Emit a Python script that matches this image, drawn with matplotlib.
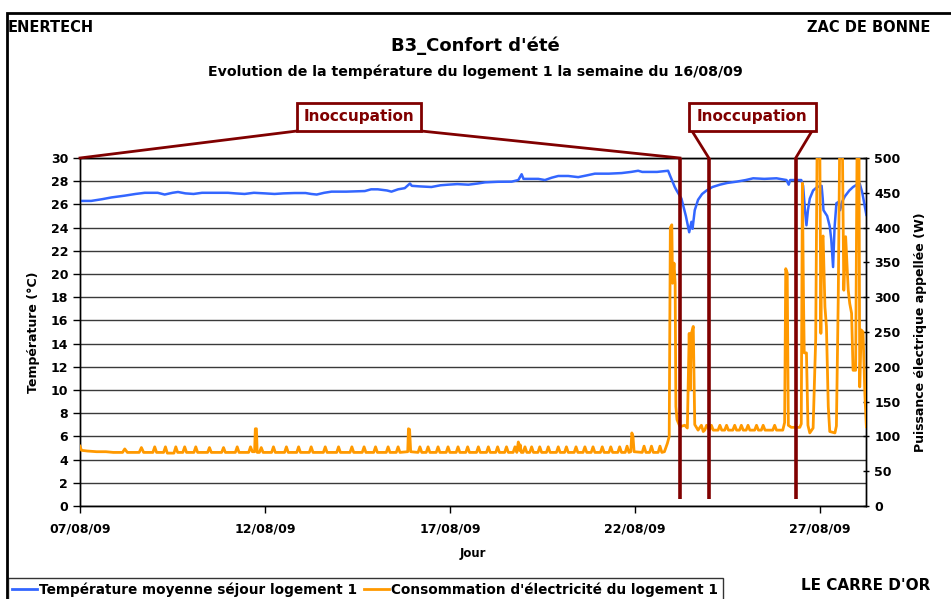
import numpy as np
import matplotlib
matplotlib.use('Agg')
import matplotlib.pyplot as plt
from matplotlib.lines import Line2D
from matplotlib.patches import Rectangle

plt.rcParams['font.family'] = ['DejaVu Sans']
plt.rcParams['font.weight'] = 'bold'

# days since 07/08/09 00:00
temp_days = [0, 0.3, 0.6, 0.85, 1.2, 1.5, 1.75, 2.1, 2.29, 2.5, 2.65, 2.85, 3.07, 3.3, 3.6, 4.0, 4.2,
             4.45, 4.7, 5.0, 5.26, 5.5, 5.8, 6.1, 6.25, 6.4, 6.6, 6.8, 7.2, 7.7, 7.87, 8.05, 8.3, 8.42,
             8.6, 8.78, 8.92, 8.97, 9.2, 9.5, 9.75, 9.95, 10.2, 10.5, 10.75, 10.95, 11.3, 11.67, 11.85,
             11.94, 11.99, 12.39, 12.57, 12.75, 12.93, 13.2, 13.47, 13.7, 13.92, 14.3, 14.64, 14.9,
             15.09, 15.2, 15.6, 15.9, 15.95, 16.08, 16.13, 16.26, 16.38, 16.47, 16.53, 16.56, 16.62,
             16.71, 16.82, 16.94, 17.1, 17.3, 17.5, 17.75, 18.0, 18.2, 18.5, 18.83, 19.1, 19.16, 19.2,
             19.5, 19.55, 19.6, 19.64, 19.68, 19.73, 19.82, 19.93, 20.05, 20.08, 20.1, 20.2, 20.27,
             20.31, 20.36, 20.4, 20.45, 20.5, 20.55, 20.6, 20.68, 20.8, 20.9, 21.0, 21.08, 21.15, 21.26]
temp_vals = [26.3, 26.3, 26.45, 26.6, 26.75, 26.9, 27.0, 27.0, 26.85, 27.0, 27.07, 26.95, 26.9, 27.0,
             27.0, 27.0, 26.95, 26.9, 27.0, 26.95, 26.9, 26.95, 26.98, 26.98, 26.9, 26.85, 27.0, 27.1,
             27.1, 27.15, 27.3, 27.3, 27.2, 27.1, 27.3, 27.4, 27.8, 27.6, 27.55, 27.5, 27.65, 27.7,
             27.75, 27.7, 27.8, 27.9, 27.95, 27.96, 28.1, 28.6, 28.2, 28.2, 28.1, 28.3, 28.45, 28.45,
             28.35, 28.5, 28.65, 28.65, 28.7, 28.8, 28.9, 28.8, 28.8, 28.9, 28.5, 27.5, 27.2, 26.5,
             25.0, 23.6, 24.5, 23.9, 25.5, 26.4, 26.9, 27.2, 27.5, 27.7, 27.85, 27.96, 28.1, 28.25,
             28.2, 28.25, 28.1, 27.7, 28.1, 28.1, 27.6, 25.5, 24.2, 25.5, 26.5, 27.2, 27.5, 27.6, 26.5,
             25.5, 25.0, 24.1, 23.0, 20.6, 24.0, 26.1, 26.2, 25.5, 26.2, 26.7, 27.2, 27.5, 27.7, 27.8,
             27.0, 25.1]

elec_days = [0, 0.04, 0.2, 0.45, 0.7, 0.9, 1.15, 1.21, 1.28,
             1.6, 1.66, 1.72, 1.97, 2.02, 2.07, 2.26, 2.31, 2.36, 2.54, 2.59, 2.64,
             2.78, 2.83, 2.88, 3.08, 3.13, 3.18, 3.45, 3.5, 3.55, 3.83, 3.88, 3.93,
             4.2, 4.25, 4.3, 4.56, 4.61, 4.66, 4.72, 4.74, 4.77, 4.79, 4.85, 4.9, 4.95,
             5.18, 5.23, 5.28, 5.53, 5.58, 5.63, 5.86, 5.91, 5.96, 6.2, 6.25, 6.3,
             6.58, 6.63, 6.68, 6.94, 6.99, 7.04, 7.3, 7.35, 7.4, 7.63, 7.68, 7.73,
             7.94, 7.99, 8.04, 8.28, 8.33, 8.38, 8.55, 8.6, 8.65, 8.86, 8.88, 8.91, 8.94,
             9.14, 9.19, 9.24, 9.36, 9.41, 9.46, 9.63, 9.68, 9.73, 9.9, 9.95, 10.0,
             10.17, 10.22, 10.27, 10.43, 10.48, 10.53, 10.72, 10.77, 10.82, 10.99, 11.04, 11.09,
             11.24, 11.29, 11.34, 11.48, 11.53, 11.58, 11.71, 11.76, 11.81, 11.85, 11.88, 11.9, 11.93,
             11.98, 12.03, 12.08, 12.16, 12.21, 12.26, 12.38, 12.43, 12.48, 12.61, 12.66, 12.71,
             12.88, 12.93, 12.98, 13.1, 13.15, 13.2, 13.36, 13.41, 13.46, 13.6, 13.65, 13.7,
             13.82, 13.87, 13.92, 14.07, 14.12, 14.17, 14.3, 14.35, 14.4, 14.54, 14.59, 14.64,
             14.74, 14.79, 14.84, 14.89, 14.92, 14.95, 14.98, 15.2, 15.25, 15.3, 15.4, 15.45, 15.5,
             15.63, 15.68, 15.73, 15.8, 15.88, 15.93, 15.96, 16.0, 16.02, 16.06, 16.09, 16.11, 16.14,
             16.22, 16.35, 16.42, 16.47, 16.5, 16.53, 16.58, 16.62, 16.71, 16.8, 16.85,
             16.89, 16.94, 17.02, 17.07, 17.12, 17.25, 17.3, 17.35, 17.43, 17.48, 17.53,
             17.65, 17.7, 17.75, 17.83, 17.88, 17.93, 18.01, 18.06, 18.11, 18.24, 18.29, 18.34,
             18.42, 18.47, 18.52, 18.73, 18.78, 18.83, 19.0, 19.05, 19.08, 19.12, 19.15, 19.23,
             19.46, 19.5, 19.53, 19.56, 19.58, 19.61, 19.64, 19.68, 19.73, 19.82, 19.89, 19.93,
             20.0, 20.03, 20.05, 20.09, 20.14, 20.18, 20.23, 20.27, 20.41, 20.45, 20.5, 20.54,
             20.61, 20.65, 20.7, 20.77, 20.81, 20.86, 20.9, 20.97, 21.01, 21.06, 21.08, 21.12,
             21.17, 21.22, 21.26]
elec_vals = [86, 80, 79, 78, 78, 77, 77, 82, 77,
             77, 84, 77, 77, 85, 77, 77, 85, 76, 76, 85, 77,
             77, 85, 77, 77, 85, 77, 77, 84, 77, 77, 84, 77,
             77, 85, 77, 77, 85, 78, 78, 111, 111, 77, 77, 84, 77,
             77, 85, 77, 77, 85, 77, 77, 85, 77, 77, 85, 77,
             77, 85, 77, 77, 85, 77, 77, 85, 77, 77, 85, 77,
             77, 85, 77, 77, 85, 77, 77, 85, 77, 78, 111, 110, 78,
             77, 85, 77, 77, 85, 77, 77, 85, 77, 77, 85, 77,
             77, 85, 77, 77, 85, 77, 77, 85, 77, 77, 85, 77,
             77, 85, 77, 77, 85, 77, 77, 85, 77, 92, 80, 88, 77,
             77, 85, 77, 77, 85, 77, 77, 85, 77, 77, 85, 77,
             77, 85, 77, 77, 85, 77, 77, 85, 77, 77, 85, 77,
             77, 85, 77, 77, 85, 77, 77, 85, 77, 77, 85, 77,
             77, 86, 77, 78, 105, 100, 78, 77, 86, 77, 77, 86, 77,
             77, 86, 77, 78, 90, 100, 400, 404, 320, 349, 320, 143, 124,
             114, 116, 112, 248, 167, 248, 258, 117, 109, 116, 107,
             109, 116, 109, 116, 109, 109, 116, 109, 109, 116, 109,
             109, 116, 109, 109, 116, 109, 109, 116, 109, 109, 116, 109,
             109, 116, 109, 109, 116, 109, 109, 120, 341, 335, 116, 113,
             113, 118, 464, 300, 220, 220, 220, 116, 105, 112, 240, 530,
             530, 248, 382, 388, 286, 258, 143, 107, 105, 115, 300, 530,
             530, 310, 387, 310, 291, 277, 195, 195, 530, 530, 171, 253,
             250, 160, 114]

xtick_days = [0, 5, 10, 15, 20]
xtick_labels = ['07/08/09', '12/08/09', '17/08/09', '22/08/09', '27/08/09']
vacancy_lines = [16.22, 17.0, 19.35]

dark_red = '#800000'
blue = '#3366FF'
orange = '#FF9900'

fig = plt.figure(figsize=(9.51, 5.99), dpi=100)
W, H = 951, 599
ax = fig.add_axes([80 / W, 1 - 506 / H, 786 / W, 348 / H])
ax2 = ax.twinx()

ax.plot(temp_days, temp_vals, color=blue, lw=1.8, zorder=3)
ax2.plot(elec_days, elec_vals, color=orange, lw=2.0, zorder=3)
ax2.vlines(vacancy_lines, 0.6, 30, colors=dark_red, lw=2.6, transform=ax.transData, zorder=4)

ax.set_xlim(0, 21.25)
ax.set_ylim(0, 30)
ax2.set_ylim(0, 500)
ax.set_yticks(np.arange(0, 31, 2))
ax2.set_yticks(np.arange(0, 501, 50))
ax.set_xticks(xtick_days)
ax.set_xticklabels(xtick_labels)
ax.grid(axis='y', color='#3a3a3a', lw=1)
ax.set_axisbelow(True)
ax.tick_params(axis='both', labelsize=9, length=5, width=1, direction='out')
ax.tick_params(axis='x', pad=7)
ax2.tick_params(axis='y', labelsize=9, length=5, width=1, direction='inout')
for a in (ax, ax2):
    for s in a.spines.values():
        s.set_linewidth(1)
        s.set_color('black')

ax.set_ylabel('Température (°C)', fontsize=9, fontweight='bold', labelpad=8)
ax2.set_ylabel('Puissance électrique appellée (W)', fontsize=9, fontweight='bold', labelpad=10)
fig.text(473 / W, 1 - 553 / H, 'Jour', ha='center', va='center', fontsize=8.5, fontweight='bold')

# headers
fig.text(8 / W, 1 - 27 / H, 'ENERTECH', ha='left', va='center', fontsize=10.5, fontweight='bold')
fig.text(930 / W, 1 - 27 / H, 'ZAC DE BONNE', ha='right', va='center', fontsize=10.5, fontweight='bold')
fig.text(475 / W, 1 - 46 / H, "B3_Confort d'été", ha='center', va='center', fontsize=13, fontweight='bold')
fig.text(475 / W, 1 - 72 / H, 'Evolution de la température du logement 1 la semaine du 16/08/09',
         ha='center', va='center', fontsize=10.2, fontweight='bold')
fig.text(930 / W, 1 - 586 / H, "LE CARRE D'OR", ha='right', va='center', fontsize=11, fontweight='bold')

# annotation boxes "Inoccupation"
def box(x0, x1, y0, y1):
    r = Rectangle((x0 / W, 1 - y1 / H), (x1 - x0) / W, (y1 - y0) / H, transform=fig.transFigure,
                  fill=True, facecolor='white', edgecolor=dark_red, lw=2, zorder=5)
    fig.patches.append(r)
    fig.text((x0 + x1) / 2 / W, 1 - (y0 + y1) / 2 / H, 'Inoccupation', ha='center', va='center',
             fontsize=11, fontweight='bold', color=dark_red, zorder=6)

box(297, 421, 103, 131)
box(689, 816, 103, 131)

def link(xb, yb, day):
    xa, ya = fig.transFigure.inverted().transform(ax.transData.transform((day, 30)))
    fig.add_artist(Line2D([xb / W, xa], [1 - yb / H, ya], color=dark_red, lw=2, zorder=4))

link(297, 131, 0)
link(421, 131, vacancy_lines[0])
link(692, 131, vacancy_lines[1])
link(812, 131, vacancy_lines[2])

# legend
handles = [Line2D([], [], color=blue, lw=2), Line2D([], [], color=orange, lw=2)]
leg = fig.legend(handles, ['Température moyenne séjour logement 1', "Consommation d'électricité du logement 1"],
                 loc='upper left', bbox_to_anchor=(8 / W, 1 - 578 / H), ncol=2, frameon=True,
                 fancybox=False, edgecolor='black', prop={'size': 9.8, 'weight': 'bold'},
                 handlelength=1.8, handletextpad=0.2, columnspacing=0.5, borderpad=0.3,
                 borderaxespad=0)
leg.get_frame().set_linewidth(1)

# outer frame of the chart area
fig.patches.append(Rectangle((6.5 / W, -0.05), 1.2, 1 - 13 / H + 0.05, transform=fig.transFigure,
                             fill=False, edgecolor='black', lw=2))

fig.savefig('out.png', dpi=100)
